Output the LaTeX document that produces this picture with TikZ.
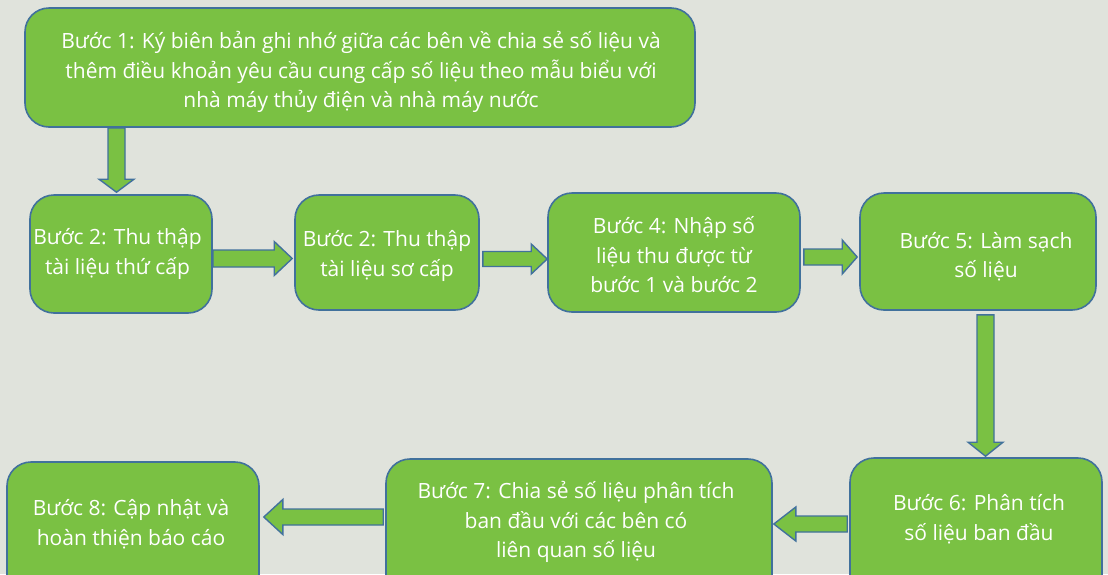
\documentclass[tikz,border=0pt]{standalone}
\usepackage{fontspec}
\setmainfont{Open Sans}
\usetikzlibrary{calc}
\definecolor{bgc}{RGB}{224,227,220}
\definecolor{boxg}{RGB}{122,193,67}
\definecolor{boxb}{RGB}{65,113,156}
\tikzset{
  stepbox/.style={draw=boxb, fill=boxg, line width=1.6pt, rounded corners=24pt, inner sep=0pt},
  steptext/.style={text=white, align=center, font=\fontsize{21}{29.5}\selectfont, inner sep=0pt},
  blk/.style={draw=boxb, fill=boxg, line width=1.4pt, line join=miter}
}
\newcommand\rarr[5]{\draw[blk] ($(#1)+(0,-#3)$) -- ($(#2)+(-#5,-#3)$) -- ($(#2)+(-#5,-#4)$) -- (#2) -- ($(#2)+(-#5,#4)$) -- ($(#2)+(-#5,#3)$) -- ($(#1)+(0,#3)$) -- cycle;}
\newcommand\larr[5]{\draw[blk] ($(#1)+(0,-#3)$) -- ($(#2)+(#5,-#3)$) -- ($(#2)+(#5,-#4)$) -- (#2) -- ($(#2)+(#5,#4)$) -- ($(#2)+(#5,#3)$) -- ($(#1)+(0,#3)$) -- cycle;}
\newcommand\darr[5]{\draw[blk] ($(#1)+(-#3,0)$) -- ($(#2)+(-#3,-#5)$) -- ($(#2)+(-#4,-#5)$) -- (#2) -- ($(#2)+(#4,-#5)$) -- ($(#2)+(#3,-#5)$) -- ($(#1)+(#3,0)$) -- cycle;}
\begin{document}
\begin{tikzpicture}[x=1pt,y=-1pt]
\useasboundingbox (0,0) rectangle (1108,574);
\clip (0,0) rectangle (1108,574);
\fill[bgc] (0,0) rectangle (1108,574);
% boxes
\node[stepbox, minimum width=670pt, minimum height=119pt] (b1) at (360,67.5) {};
\node[stepbox, minimum width=182pt, minimum height=118pt] (b2) at (121,254) {};
\node[stepbox, minimum width=184pt, minimum height=115pt] (b3) at (387,252.5) {};
\node[stepbox, minimum width=252pt, minimum height=119pt] (b4) at (674,252.5) {};
\node[stepbox, minimum width=236pt, minimum height=117pt] (b5) at (978,251.5) {};
\node[stepbox, minimum width=252pt, minimum height=152pt] (b6) at (976,534) {};
\node[stepbox, minimum width=386pt, minimum height=151pt] (b7) at (579,534.5) {};
\node[stepbox, minimum width=252pt, minimum height=148pt] (b8) at (133,536) {};
% texts
\node[steptext] (t1) at (361,72) {Bước 1: Ký biên bản ghi nhớ giữa các bên về chia sẻ số liệu và\\thêm điều khoản yêu cầu cung cấp số liệu theo mẫu biểu với\\nhà máy thủy điện và nhà máy nước};
\node[steptext] (t2) at (117.5,254) {Bước 2: Thu thập\\tài liệu thứ cấp};
\node[steptext] (t3) at (387,256) {Bước 2: Thu thập\\tài liệu sơ cấp};
\node[steptext] (t4) at (674,255) {Bước 4: Nhập số\\liệu thu được từ\\bước 1 và bước 2};
\node[steptext] (t5) at (986,257) {Bước 5: Làm sạch\\số liệu};
\node[steptext] (t6) at (979,519) {Bước 6: Phân tích\\số liệu ban đầu};
\node[steptext] (t7) at (576,522) {Bước 7: Chia sẻ số liệu phân tích\\ban đầu với các bên có\\liên quan số liệu};
\node[steptext] (t8) at (131,524) {Bước 8: Cập nhật và\\hoàn thiện báo cáo};
% connector ends
\coordinate (s12) at (b1.south -| 116.5,0);
\coordinate (e12) at ($(b2.north -| 116.5,0)+(0,-2)$);
\coordinate (s23) at (b2.east |- 0,258.5);
\coordinate (e23) at ($(b3.west |- 0,258.5)+(-2,0)$);
\coordinate (s34) at ($(b3.east |- 0,259)+(3,0)$);
\coordinate (e34) at (b4.west |- 0,259);
\coordinate (s45) at ($(b4.east |- 0,257)+(3,0)$);
\coordinate (e45) at ($(b5.west |- 0,257)+(-2,0)$);
\coordinate (s56) at ($(b5.south -| 985.5,0)+(0,4)$);
\coordinate (e56) at ($(b6.north -| 985.5,0)+(0,-1)$);
\coordinate (s67) at ($(b6.west |- 0,524)+(-2,0)$);
\coordinate (e67) at ($(b7.east |- 0,524)+(1,0)$);
\coordinate (s78) at ($(b7.west |- 0,517)+(-2,0)$);
\coordinate (e78) at ($(b8.east |- 0,517)+(4,0)$);
% block arrows
\darr{s12}{e12}{8.5}{17.5}{13}
\rarr{s23}{e23}{8.5}{17}{18}
\rarr{s34}{e34}{7.5}{15}{16}
\rarr{s45}{e45}{8}{17}{15}
\darr{s56}{e56}{8.5}{17.5}{14}
\larr{s67}{e67}{8}{17}{22}
\larr{s78}{e78}{8}{17.5}{19}
\end{tikzpicture}
\end{document}
